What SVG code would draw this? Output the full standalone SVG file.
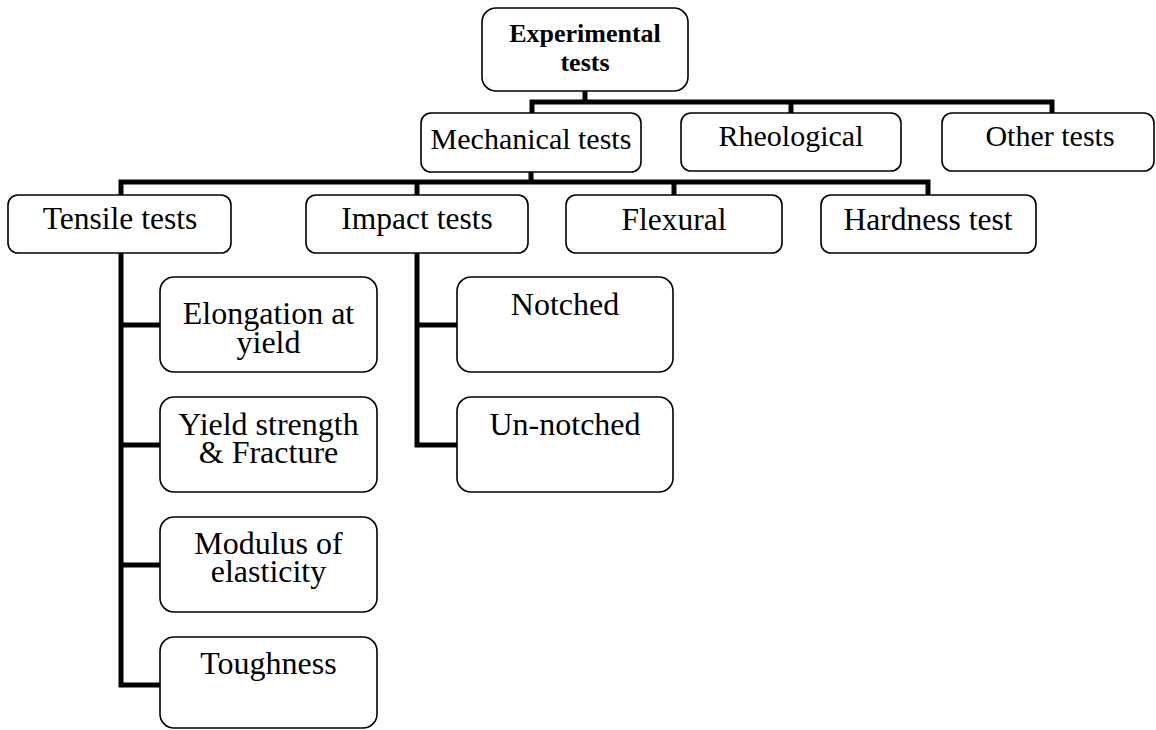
<svg xmlns="http://www.w3.org/2000/svg" width="1156" height="730" viewBox="0 0 1156 730">
  <style>
    .box { fill: #ffffff; stroke: #000000; stroke-width: 1.6; }
    .lbl { font-family: "Liberation Serif", "Times New Roman", serif; font-size: 30px; fill: #000000; text-anchor: middle; }
    .bold { font-weight: bold; font-size: 26px; }
    .mid { font-size: 31.5px; }
    .leaf { font-size: 32px; }
    .wire { fill: none; stroke: #000000; stroke-width: 5; stroke-linejoin: miter; stroke-linecap: butt; }
  </style>
  <rect width="1156" height="730" fill="#ffffff"/>

  <!-- connectors, drawn beneath the boxes -->
  <g id="connectors">
    <path class="wire" d="M585,90 V102"/>
    <path class="wire" d="M532,114 V102 H1052 V114"/>
    <path class="wire" d="M791,102 V114"/>
    <path class="wire" d="M531,172 V182"/>
    <path class="wire" d="M121,196 V182 H928 V196"/>
    <path class="wire" d="M417,182 V196"/>
    <path class="wire" d="M674,182 V196"/>
    <path class="wire" d="M121,252 V685 H161"/>
    <path class="wire" d="M121,325 H161"/>
    <path class="wire" d="M121,445 H161"/>
    <path class="wire" d="M121,565 H161"/>
    <path class="wire" d="M417,252 V445 H458"/>
    <path class="wire" d="M417,325 H458"/>
  </g>

  <g id="experimental">
    <rect class="box" x="482" y="8" width="206" height="83" rx="14"/>
    <text class="lbl bold" x="585" y="42">Experimental</text>
    <text class="lbl bold" x="585" y="71">tests</text>
  </g>

  <g id="mechanical">
    <rect class="box" x="421" y="113" width="220" height="59" rx="10"/>
    <text class="lbl" x="531" y="149">Mechanical tests</text>
  </g>
  <g id="rheological">
    <rect class="box" x="681" y="113" width="220" height="58" rx="10"/>
    <text class="lbl" x="791" y="146">Rheological</text>
  </g>
  <g id="other">
    <rect class="box" x="942" y="113" width="212" height="58" rx="10"/>
    <text class="lbl" x="1050" y="146">Other tests</text>
  </g>

  <g id="tensile">
    <rect class="box" x="8" y="195" width="223" height="58" rx="10"/>
    <text class="lbl mid" x="120" y="229">Tensile tests</text>
  </g>
  <g id="impact">
    <rect class="box" x="306" y="195" width="222" height="58" rx="10"/>
    <text class="lbl mid" x="417" y="229">Impact tests</text>
  </g>
  <g id="flexural">
    <rect class="box" x="566" y="195" width="216" height="58" rx="10"/>
    <text class="lbl mid" x="674" y="230">Flexural</text>
  </g>
  <g id="hardness">
    <rect class="box" x="821" y="195" width="215" height="58" rx="10"/>
    <text class="lbl mid" x="928" y="230">Hardness test</text>
  </g>

  <g id="elongation">
    <rect class="box" x="160" y="277" width="217" height="95" rx="14"/>
    <text class="lbl leaf" x="268.5" y="324">Elongation at</text>
    <text class="lbl leaf" x="268.5" y="353">yield</text>
  </g>
  <g id="yield">
    <rect class="box" x="160" y="397" width="217" height="95" rx="14"/>
    <text class="lbl leaf" x="268.5" y="435">Yield strength</text>
    <text class="lbl leaf" x="268.5" y="463">&amp; Fracture</text>
  </g>
  <g id="modulus">
    <rect class="box" x="160" y="517" width="217" height="95" rx="14"/>
    <text class="lbl leaf" x="268.5" y="554">Modulus of</text>
    <text class="lbl leaf" x="268.5" y="582">elasticity</text>
  </g>
  <g id="toughness">
    <rect class="box" x="160" y="637" width="217" height="91" rx="14"/>
    <text class="lbl leaf" x="268.5" y="674">Toughness</text>
  </g>

  <g id="notched">
    <rect class="box" x="457" y="277" width="216" height="95" rx="14"/>
    <text class="lbl leaf" x="565" y="315">Notched</text>
  </g>
  <g id="unnotched">
    <rect class="box" x="457" y="397" width="216" height="95" rx="14"/>
    <text class="lbl leaf" x="565" y="435">Un-notched</text>
  </g>
</svg>
